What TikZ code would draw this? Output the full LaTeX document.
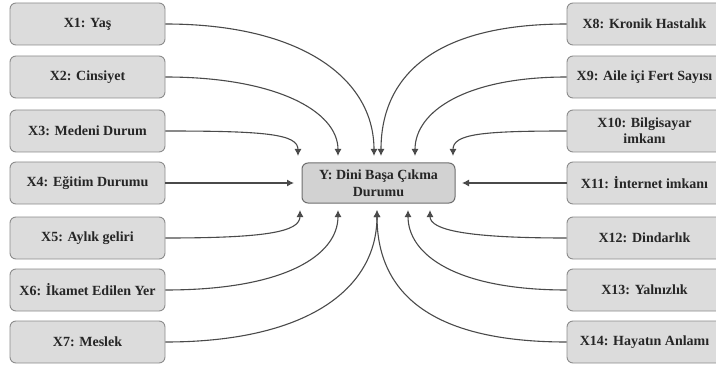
\documentclass[tikz,border=0pt]{standalone}
\usepackage{fontspec}
\setmainfont{Liberation Serif}
\usetikzlibrary{arrows.meta}
\definecolor{boxfill}{HTML}{DCDCDC}
\definecolor{boxline}{HTML}{8C8C8C}
\definecolor{cfill}{HTML}{D2D2D2}
\definecolor{cline}{HTML}{6E6E6E}
\definecolor{arr}{HTML}{4A4A4A}
\begin{document}
\begin{tikzpicture}[x=1pt,y=-1pt,
  varbox/.style={draw=boxline,fill=boxfill,rounded corners=6pt,line width=0.9pt,
    minimum width=155pt,minimum height=42pt,inner sep=1pt,align=center,
    font=\fontsize{14}{16}\selectfont\bfseries,text=black!85},
  ybox/.style={draw=cline,fill=cfill,rounded corners=6pt,line width=1pt,
    minimum width=153pt,minimum height=40pt,inner sep=1pt,align=center,
    font=\fontsize{14}{17}\selectfont\bfseries,text=black!85},
  link/.style={draw=arr,line width=1.1pt,-{Latex[length=7pt,width=7pt]}}]
\useasboundingbox (0,0) rectangle (716,369);
% left boxes
\node[varbox] (x1) at (87.5,24) {X1: Yaş};
\node[varbox] (x2) at (87.5,77) {X2: Cinsiyet};
\node[varbox] (x3) at (87.5,131) {X3: Medeni Durum};
\node[varbox] (x4) at (87.5,183) {X4: Eğitim Durumu};
\node[varbox] (x5) at (87.5,238) {X5: Aylık geliri};
\node[varbox] (x6) at (87.5,290) {X6: İkamet Edilen Yer};
\node[varbox] (x7) at (87.5,342) {X7: Meslek};
% right boxes (cut at the right edge)
\node[varbox] (x8) at (644.5,24) {X8: Kronik Hastalık};
\node[varbox] (x9) at (644.5,77) {X9: Aile içi Fert Sayısı};
\node[varbox] (x10) at (644.5,131) {X10: Bilgisayar\\imkanı};
\node[varbox] (x11) at (644.5,183) {X11: İnternet imkanı};
\node[varbox] (x12) at (644.5,238) {X12: Dindarlık};
\node[varbox] (x13) at (644.5,290) {X13: Yalnızlık};
\node[varbox] (x14) at (644.5,342) {X14: Hayatın Anlamı};
% centre
\node[ybox] (y) at (378.5,183) {Y: Dini Başa Çıkma\\Durumu};
% arrow end points
\coordinate (t1) at (298,156);
\coordinate (t2) at (338,156);
\coordinate (t3a) at (374,156);
\coordinate (t3b) at (381,156);
\coordinate (t4) at (415,156);
\coordinate (t5) at (453,156);
\coordinate (b1) at (300,210);
\coordinate (b2) at (338,210);
\coordinate (b3) at (377,210);
\coordinate (b4) at (408,210);
\coordinate (b5) at (430,210);
\coordinate (lm) at (294,183);
\coordinate (rm) at (462,183);
% left connectors
\draw[link] (x1.east) .. controls +(135,0) and +(0,-78) .. (t3a);
\draw[link] (x2.east) .. controls +(110,0) and +(0,-45) .. (t2);
\draw[link] (x3.east) .. controls +(100,0) and +(0,-22) .. (t1);
\draw[link] (x4.east) -- (lm);
\draw[link] (x5.east) .. controls +(100,0) and +(0,22) .. (b1);
\draw[link] (x6.east) .. controls +(120,0) and +(0,45) .. (b2);
\draw[link] (x7.east) .. controls +(140,0) and +(0,80) .. (b3);
% right connectors
\draw[link] (x8.west) .. controls +(-135,0) and +(0,-78) .. (t3b);
\draw[link] (x9.west) .. controls +(-100,0) and +(0,-45) .. (t4);
\draw[link] (x10.west) .. controls +(-85,0) and +(0,-22) .. (t5);
\draw[link] (x11.west) -- (rm);
\draw[link] (x12.west) .. controls +(-100,0) and +(0,20) .. (b5);
\draw[link] (x13.west) .. controls +(-110,0) and +(0,45) .. (b4);
\draw[link] (x14.west) .. controls +(-140,0) and +(0,80) .. (b3);
\end{tikzpicture}
\end{document}
